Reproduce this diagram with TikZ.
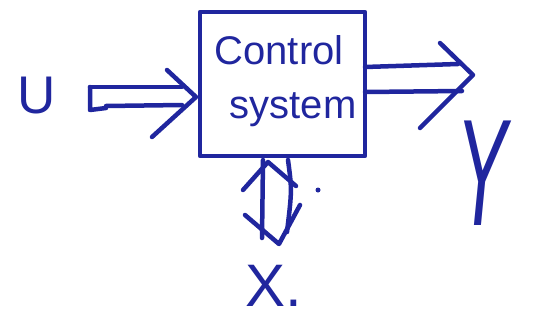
\documentclass[tikz,border=0pt]{standalone}
\usepackage{fontspec}
\setmainfont{Liberation Sans}
\usetikzlibrary{calc}
\begin{document}
\begin{tikzpicture}[x=1pt,y=-1pt,
  ink/.style={draw=penblue,line width=4.5pt,line cap=round,line join=round},
  lbl/.style={text=penblue,inner sep=0pt,anchor=center}]
\definecolor{penblue}{RGB}{32,38,158}
\useasboundingbox (0,0) rectangle (549,324);
% box
\node[ink,rectangle,minimum width=165pt,minimum height=144pt,inner sep=0pt] (box) at (282.5,84) {};
\node[lbl,font=\fontsize{40}{40}\selectfont] (t1) at (279,50) {Control};
\node[lbl,font=\fontsize{40}{40}\selectfont] (t2) at (293,110) {system};
% labels
\node[lbl,font=\fontsize{53}{53}\selectfont] (U) at (37,96) {U};
\node[lbl,font=\fontsize{95}{95}\selectfont\itshape] (Y) at (482,173) {\scalebox{0.8}[1.6]{Y}};
\node[lbl,font=\fontsize{60}{60}\selectfont,anchor=west] (X) at (245,286) {X.};
% input arrow
\draw[ink] (90,87) -- (182,87);
\draw[ink] (90,87) -- (90,110) -- (106,108);
\draw[ink] (106,106) -- (182,105);
\draw[ink] (167,70) -- (196,97) -- (152,137);
% output arrow
\draw[ink] (365,67) -- (458,64);
\draw[ink] (365,92) -- (462,91);
\draw[ink] (440,43) -- (473,75) -- (420,128);
% state arrow (double-headed)
\draw[ink] (263,160) -- (262,238);
\draw[ink] (288,160) .. controls (292,190) .. (287,232);
\draw[ink] (243,190) -- (268,162) -- (296,186);
\draw[ink] (245,215) -- (279,244) -- (300,205);
\fill[penblue] (318,190) circle (2.5pt);
\end{tikzpicture}
\end{document}
